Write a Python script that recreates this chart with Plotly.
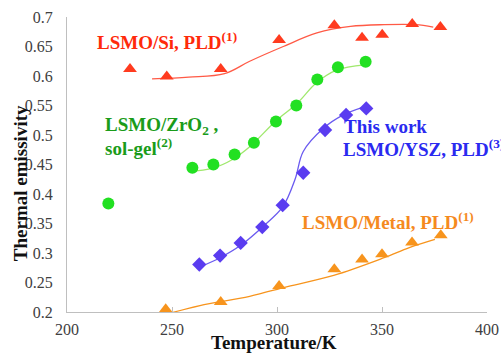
import plotly.graph_objects as go

# Measured emissivity points
si_T = [230.0, 247.5, 273.2, 301.0, 327.3, 340.5, 350.1, 364.4, 377.8]
si_e = [0.612, 0.599, 0.612, 0.661, 0.686, 0.665, 0.670, 0.688, 0.683]

zro2_T = [219.7, 259.7, 269.7, 279.8, 289.0, 299.5, 309.2, 319.2, 329.0, 342.2]
zro2_e = [0.384, 0.4445, 0.450, 0.467, 0.487, 0.523, 0.550, 0.594, 0.615, 0.624]

ysz_T = [263.0, 272.9, 282.7, 293.0, 302.7, 312.5, 322.9, 332.9, 342.5]
ysz_e = [0.2805, 0.2957, 0.317, 0.344, 0.381, 0.436, 0.5085, 0.534, 0.545]

metal_T = [247.0, 273.2, 301.0, 327.3, 340.5, 350.0, 364.3, 378.0]
metal_e = [0.2046, 0.217, 0.244, 0.2725, 0.289, 0.298, 0.318, 0.330]

# Guide-to-the-eye trend curves
si_fit_T = [240.5, 258, 275, 287, 303, 319, 335, 351, 366, 374.4]
si_fit_e = [0.595, 0.598, 0.604, 0.625, 0.650, 0.673, 0.684, 0.687, 0.687, 0.683]

zro2_fit_T = [257.8, 269.5, 279, 287, 299.8, 309.4, 318.9, 328.4, 341.9]
zro2_fit_e = [0.438, 0.444, 0.459, 0.480, 0.525, 0.553, 0.589, 0.610, 0.619]

ysz_fit_T = [263, 272.9, 282.7, 293.5, 302.7, 308.6, 312.5, 322, 331.6, 341.9]
ysz_fit_e = [0.276, 0.292, 0.313, 0.3455, 0.378, 0.425, 0.472, 0.511, 0.534, 0.548]

metal_fit_T = [249, 263.3, 287, 305, 327, 351, 363, 375.2]
metal_fit_e = [0.198, 0.211, 0.2266, 0.243, 0.262, 0.292, 0.309, 0.323]

x_ticks = [200, 250, 300, 350, 400]
y_ticks = [0.2, 0.25, 0.3, 0.35, 0.4, 0.45, 0.5, 0.55, 0.6, 0.65, 0.7]
y_tick_text = ["0.2", "0.25", "0.3", "0.35", "0.4", "0.45", "0.5", "0.55", "0.6", "0.65", "0.7"]

RED, RED_TXT = "#ff3b1f", "#ff2a0a"
GREEN, GREEN_LINE, GREEN_TXT = "#22e022", "#9fe86c", "#1a9c1a"
BLUE, BLUE_LINE, BLUE_TXT = "#5a3cf0", "#6a5af0", "#2a2af0"
ORANGE, ORANGE_TXT = "#f7941d", "#f58a1f"

# Plot-area geometry in pixels (figure is 501 x 356)
L, R, T, B = 67, 487, 17, 311.7
W, H = R - L, B - T


def px_to_paper(px, py):
    return (px - L) / W, (B - py) / H


fig = go.Figure()


def curve(x, y, color, width=1.3):
    fig.add_trace(go.Scatter(x=x, y=y, mode="lines", line=dict(color=color, width=width, shape="spline"),
                             hoverinfo="skip", showlegend=False))


def points(x, y, color, symbol, size):
    fig.add_trace(go.Scatter(x=x, y=y, mode="markers", cliponaxis=False,
                             marker=dict(color=color, symbol=symbol, size=size, line=dict(width=0)),
                             showlegend=False))


curve(si_fit_T, si_fit_e, "#ff5a46")
curve(zro2_fit_T, zro2_fit_e, GREEN_LINE)
curve(ysz_fit_T, ysz_fit_e, BLUE_LINE)
curve(metal_fit_T, metal_fit_e, ORANGE)

points(si_T, si_e, RED, "triangle-up", 12)
points(zro2_T, zro2_e, GREEN, "circle", 12)
points(ysz_T, ysz_e, BLUE, "diamond", 11)
points(metal_T, metal_e, ORANGE, "triangle-up", 12)

serif = "Liberation Serif, Times New Roman, serif"


def label(text, px, py, color, **kw):
    x, y = px_to_paper(px, py)
    fig.add_annotation(text=f"<b>{text}</b>", x=x, y=y, xref="paper", yref="paper",
                       xanchor=kw.pop("xanchor", "left"), yanchor="middle", showarrow=False,
                       font=dict(family=serif, size=19, color=color), **kw)


label("LSMO/Si, PLD<sup>(1)</sup>", 95, 41, RED_TXT)
label("LSMO/ZrO<sub>2</sub> ,", 103, 126, GREEN_TXT)
label("sol-gel<sup>(2)</sup>", 103, 147, GREEN_TXT)
label("This work", 342, 126, BLUE_TXT)
label("LSMO/YSZ, PLD<sup>(3)</sup>", 341, 148, BLUE_TXT)
label("LSMO/Metal, PLD<sup>(1)</sup>", 300, 221, ORANGE_TXT)

# Axis titles
label("Thermal emissivity", 20, 183, "#111111", xanchor="center", textangle=-90)
label("Temperature/K", 274, 342, "#111111", xanchor="center")

fig.update_layout(
    width=501, height=356,
    margin=dict(l=L, r=501 - R, t=T, b=356 - B, pad=0),
    paper_bgcolor="white", plot_bgcolor="white",
    font=dict(family=serif, size=16, color="#404040"),
    showlegend=False,
)
fig.update_xaxes(range=[200, 400], tickvals=x_ticks, showgrid=False, zeroline=False, automargin=False,
                 showline=True, linecolor="#bfbfbf", linewidth=1,
                 ticks="inside", ticklen=5, tickcolor="#bfbfbf", ticklabelstandoff=3)
fig.update_yaxes(range=[0.2, 0.7], tickvals=y_ticks, ticktext=y_tick_text, showgrid=False, zeroline=False,
                 automargin=False, showline=True, linecolor="#bfbfbf", linewidth=1, ticks="",
                 ticklabelstandoff=10)

fig.write_html("out.html")
